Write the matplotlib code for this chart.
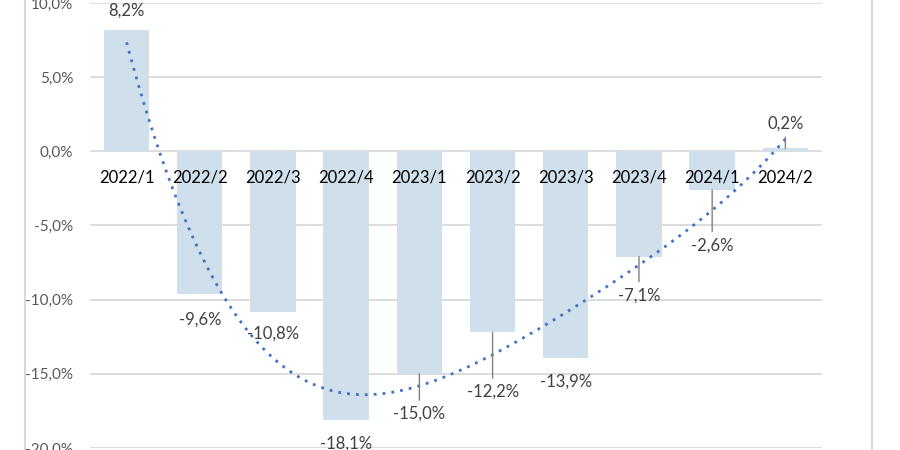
import numpy as np
import matplotlib.pyplot as plt
from matplotlib.lines import Line2D

quarters = ['2022/1', '2022/2', '2022/3', '2022/4', '2023/1', '2023/2',
            '2023/3', '2023/4', '2024/1', '2024/2']
values = [8.2, -9.6, -10.8, -18.1, -15.0, -12.2, -13.9, -7.1, -2.6, 0.2]
value_labels = ['8,2%', '-9,6%', '-10,8%', '-18,1%', '-15,0%', '-12,2%',
                '-13,9%', '-7,1%', '-2,6%', '0,2%']
# label offsets from bar end (points), and whether a leader line is drawn
label_dy = [-14, -19, -16, -17, -29, -43, -17, -28, -40, 18]
leader = [False, False, False, False, True, True, False, True, True, True]

plt.rcParams['font.family'] = ['Lato', 'DejaVu Sans']

fig = plt.figure(figsize=(9, 4.5), dpi=100)
ax = fig.add_axes([0.1, 0.0044, 0.8133, 0.989])

x = np.arange(len(quarters))
ax.bar(x, values, width=0.62, color='#cfdfeb', zorder=2)

# polynomial trendline, like the one Excel draws
coef = np.polyfit(x, values, 4)
xs = np.linspace(0, len(x) - 1, 200)
ax.plot(xs, np.polyval(coef, xs), color='#4472c4', linestyle=(0, (1, 2.2)),
        linewidth=2, zorder=3)

ax.set_xlim(-0.5, len(x) - 0.5)
ax.set_ylim(-20, 10)
ax.set_yticks(np.arange(-20, 11, 5))
ax.set_yticklabels([f'{v:.1f}%'.replace('.', ',') for v in np.arange(-20, 11, 5)],
                   color='#595959', fontsize=11)
ax.tick_params(axis='y', length=0, pad=12)
ax.set_xticks([])
ax.grid(axis='y', color='#d9d9d9', linewidth=1.3, zorder=0)
for s in ax.spines.values():
    s.set_visible(False)

for i, q in enumerate(quarters):
    ax.text(i, -1.75, q, ha='center', va='center', fontsize=12, color='black',
            zorder=4)

for i, v in enumerate(values):
    dy = label_dy[i]
    if v >= 0:
        dy = abs(dy)
    ax.annotate(value_labels[i], (i, v), xytext=(0, dy), textcoords='offset points',
                ha='center', va='center', fontsize=12, color='#404040', zorder=4)
    if leader[i]:
        sign = 1 if v >= 0 else -1
        ax.annotate('', (i, v), xytext=(0, sign * (abs(dy) - 10)),
                    textcoords='offset points',
                    arrowprops=dict(arrowstyle='-', color='#808080', lw=1,
                                    shrinkA=0, shrinkB=0), zorder=4)

fig.add_artist(Line2D([25 / 900, 25 / 900], [0, 1], color='#d9d9d9', lw=1.5))
fig.add_artist(Line2D([872 / 900, 872 / 900], [0, 1], color='#d9d9d9', lw=1.5))

fig.savefig('out.png', dpi=100)
